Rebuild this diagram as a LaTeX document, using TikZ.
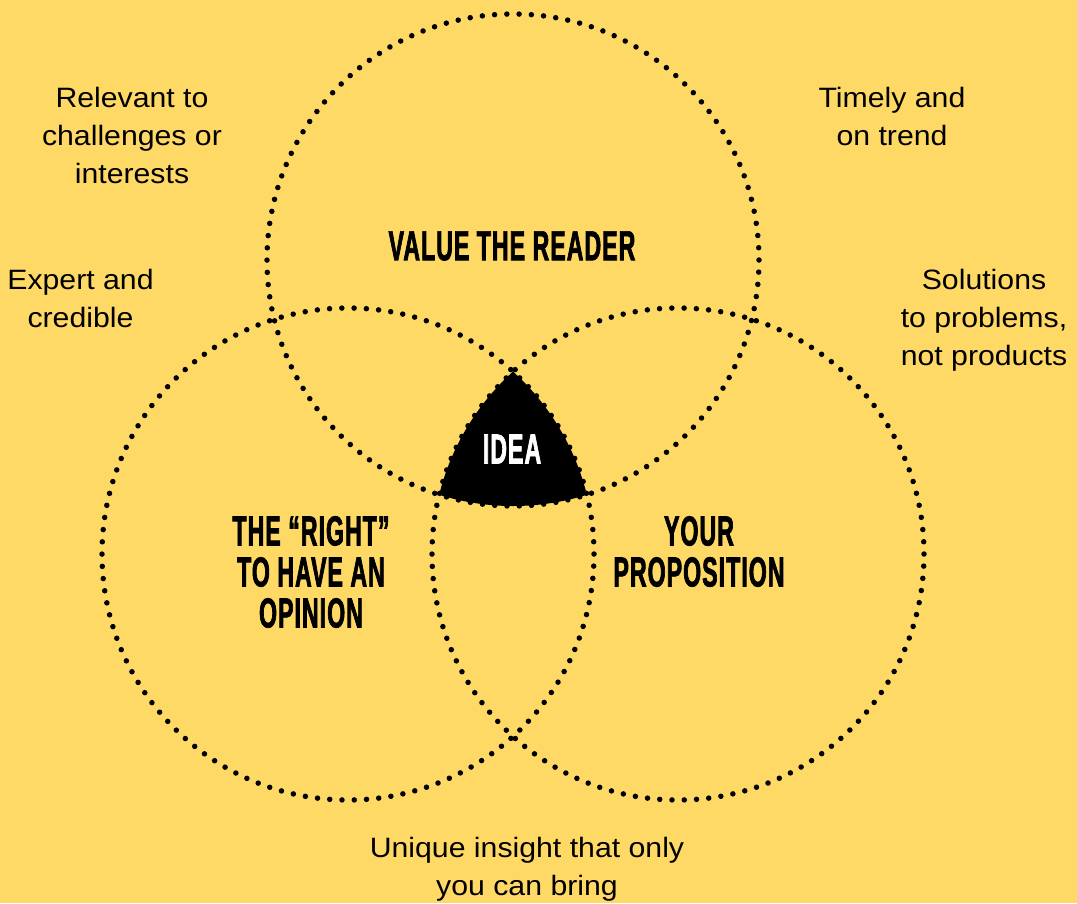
\documentclass[tikz,border=0pt]{standalone}
\usepackage{fontspec}
\setmainfont{Liberation Sans}[FakeStretch=1.08]
\newfontfamily\headfont{Liberation Sans}[FakeStretch=0.55, FakeBold=1.6, LetterSpace=2.5]
\definecolor{bg}{HTML}{FFD966}
\begin{document}
\begin{tikzpicture}[x=1pt,y=-1pt,
  ring/.style={line width=5.5pt, line cap=round, dash pattern=on 0pt off 12.27pt},
  note/.style={font=\fontsize{28}{38}\selectfont, align=center, inner sep=0pt},
  head/.style={font=\headfont\bfseries\fontsize{42}{41}\selectfont, align=center, inner sep=0pt}]
\fill[bg] (0,0) rectangle (1077,903);
\useasboundingbox (0,0) rectangle (1077,903);

% circle centres
\coordinate (T) at (513,260);
\coordinate (L) at (348,554);
\coordinate (R) at (678,554);

% common area of the three circles
\begin{scope}
  \clip (T) circle (246pt);
  \clip (L) circle (246pt);
  \fill[black] (R) circle (246pt);
\end{scope}

% dotted rings
\draw[ring] (T) circle (246pt);
\draw[ring] (L) circle (246pt);
\draw[ring] (R) circle (246pt);

% circle titles
\node[head] (reader) at (512,246) {VALUE THE READER};
\node[head] (right) at (311,572) {THE “RIGHT”\\TO HAVE AN\\OPINION};
\node[head] (prop) at (699,551.5) {YOUR\\PROPOSITION};
\node[head, text=white] (idea) at (512,449) {IDEA};

% side notes
\node[note] (relevant) at (132,135.8) {Relevant to\\challenges or\\interests};
\node[note] (timely) at (892,116.8) {Timely and\\on trend};
\node[note] (expert) at (80.5,298.8) {Expert and\\credible};
\node[note] (solutions) at (984,320.7) {Solutions\\to problems,\\not products};
\node[note] (unique) at (527,869.7) {Unique insight that only\\you can bring};
\end{tikzpicture}
\end{document}
